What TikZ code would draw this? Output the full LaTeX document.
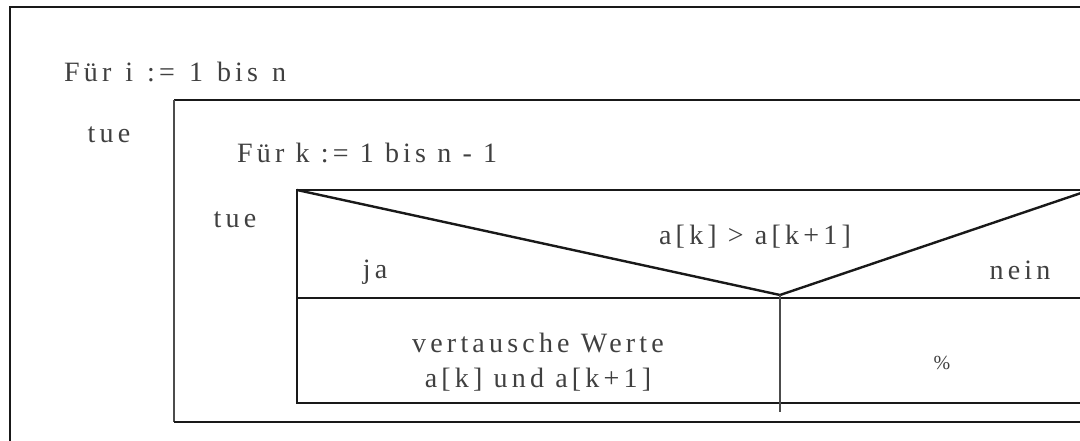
\documentclass[tikz,border=0pt]{standalone}
\usepackage{fontspec}
\setmainfont{Liberation Serif}[LetterSpace=15]
\newcommand{\widespaces}{\spaceskip=14pt plus 0pt minus 0pt }
\begin{document}
\begin{tikzpicture}[x=1pt,y=-1pt,
  txt/.style={inner sep=0pt, text=black!75, font=\fontsize{28}{35}\selectfont},
  boldline/.style={line width=2.4pt, draw=black!90},
  thinline/.style={line width=1.2pt, draw=black!70}]
\useasboundingbox (0,0) rectangle (1080,441);
\clip (0,0) rectangle (1080,441);
% outer loop box
\draw[boldline] (10,7) rectangle (1100,460);
% middle loop box
\draw[boldline] (1100,100) -- (174,100);
\draw[thinline] (174,100) -- (174,422);
\draw[boldline] (174,422) -- (1100,422);
% inner decision box
\draw[boldline] (1100,190) -- (297,190) -- (297,403) -- (1100,403);
\draw[boldline] (297,298) -- (1100,298);
\coordinate (tl) at (297,190);
\coordinate (apex) at (780,295);
\coordinate (tr) at (1090,190);
\coordinate (divbot) at (780,412);
\draw[boldline, line join=round] (tl) -- (apex) -- (tr);
\draw[thinline] (apex) -- (divbot);
% texts
\node[txt, anchor=west] (fi) at (64,72) {\widespaces Für i := 1 bis n};
\node[txt] (tue1) at (109,135) {tue};
\node[txt, anchor=west] (fk) at (237,153) {Für k := 1 bis n - 1};
\node[txt] (tue2) at (235,220) {tue};
\node[txt] (cond) at (755,237) {a[k] > a[k+1]};
\node[txt] (ja) at (375,272) {ja};
\node[txt] (nein) at (1020,270) {nein};
\node[txt, align=center] (swap) at (538,362) {vertausche Werte\\a[k] und a[k+1]};
\node[txt, font=\fontsize{20}{24}\selectfont] (pct) at (942,363) {\%};
\end{tikzpicture}
\end{document}
